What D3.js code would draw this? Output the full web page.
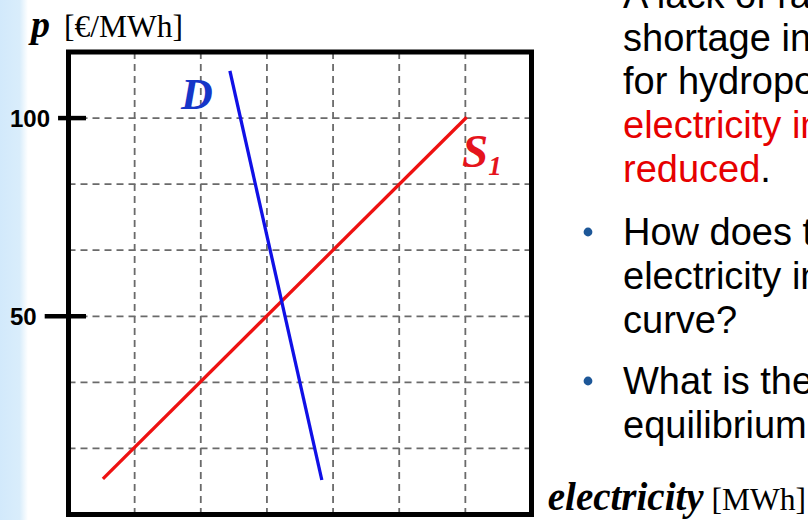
<!DOCTYPE html>
<html>
<head>
<meta charset="utf-8">
<script src="https://cdn.jsdelivr.net/npm/d3@7"></script>
<style>
  html, body { margin: 0; padding: 0; background: #fff; overflow: hidden; }
</style>
</head>
<body>
<script>
const width = 808;
const height = 520;

// valeurs (x en cases de grille, y en €/MWh)
const supplyS1 = [[0.52, 9.0], [6.02, 100.2]];
const demandD = [[2.44, 111.9], [3.83, 8.7]];
const yTicks = [50, 100];
const xGrid = [1, 2, 3, 4, 5, 6];
const yGrid = [16.67, 33.33, 50, 66.67, 83.33, 100];
const bulletLines = [
  {text: "A lack of rai", color: "#000", bullet: true},
  {text: "shortage in", color: "#000"},
  {text: "for hydropow", color: "#000"},
  {text: "electricity in", color: "#e60000"},
  {text: "reduced", color: "#e60000", tail: "."},
  {text: "How does th", color: "#000", bullet: true},
  {text: "electricity in", color: "#000"},
  {text: "curve?", color: "#000"},
  {text: "What is the", color: "#000", bullet: true},
  {text: "equilibrium", color: "#000"}
];
const lineBaselines = [8, 51, 94, 138, 182, 245, 289, 333, 394, 438];

const svg = d3.select("body")
  .append("svg")
  .attr("width", width)
  .attr("height", height);

// bande bleue du modèle de diapo
const defs = svg.append("defs");
const grad = defs.append("linearGradient").attr("id", "strip").attr("x1", 0).attr("x2", 1);
grad.append("stop").attr("offset", "0%").attr("stop-color", "#d2e9fb");
grad.append("stop").attr("offset", "70%").attr("stop-color", "#d9edfb");
grad.append("stop").attr("offset", "100%").attr("stop-color", "#ffffff");
svg.append("rect").attr("x", 0).attr("y", 0).attr("width", 28).attr("height", height).attr("fill", "url(#strip)");

const x = d3.scaleLinear().domain([0, 7]).range([68.5, 531.5]);
const y = d3.scaleLinear().domain([0, 116.67]).range([514.5, 52]);

// grille pointillée
svg.append("g").selectAll("line")
  .data(xGrid)
  .enter().append("line")
  .attr("x1", d => x(d)).attr("x2", d => x(d))
  .attr("y1", y(116.67)).attr("y2", y(0))
  .attr("stroke", "#6a6a6a").attr("stroke-width", 1.8)
  .attr("stroke-dasharray", "7,5");

svg.append("g").selectAll("line")
  .data(yGrid)
  .enter().append("line")
  .attr("x1", x(0)).attr("x2", x(7))
  .attr("y1", d => y(d)).attr("y2", d => y(d))
  .attr("stroke", "#6a6a6a").attr("stroke-width", 1.8)
  .attr("stroke-dasharray", "7,5");

// cadre
svg.append("rect")
  .attr("x", x(0)).attr("y", y(116.67))
  .attr("width", x(7) - x(0)).attr("height", y(0) - y(116.67))
  .attr("fill", "none").attr("stroke", "#000").attr("stroke-width", 5);

// graduations de l'axe des prix
const ticks = svg.append("g").selectAll("g")
  .data(yTicks)
  .enter().append("g")
  .attr("transform", d => `translate(0, ${y(d)})`);

ticks.append("text")
  .attr("x", 10)
  .attr("dy", "0.36em")
  .attr("font-family", "Liberation Sans, Arial, sans-serif")
  .attr("font-weight", "bold")
  .attr("font-size", "24px")
  .text(d => d)
  .each(function (d) {
    d3.select(this.parentNode).append("line")
      .attr("x1", 10 + this.getComputedTextLength() + 8)
      .attr("x2", 86)
      .attr("stroke", "#000").attr("stroke-width", 4.5);
  });

// courbes
const line = d3.line().x(d => x(d[0])).y(d => y(d[1]));
svg.append("path").attr("d", line(supplyS1))
  .attr("stroke", "#ee1111").attr("stroke-width", 3.3).attr("fill", "none");
svg.append("path").attr("d", line(demandD))
  .attr("stroke", "#1010e6").attr("stroke-width", 3.3).attr("fill", "none");

// étiquettes des courbes
svg.append("text")
  .attr("x", 181).attr("y", 109)
  .attr("font-family", "Liberation Serif, Times New Roman, serif")
  .attr("font-weight", "bold").attr("font-style", "italic")
  .attr("font-size", "44px").attr("fill", "#1636c8")
  .text("D");

const sLabel = svg.append("text")
  .attr("x", 462).attr("y", 167)
  .attr("font-family", "Liberation Serif, Times New Roman, serif")
  .attr("font-weight", "bold").attr("font-style", "italic")
  .attr("fill", "#e5141c");
sLabel.append("tspan").attr("font-size", "47px").text("S");
sLabel.append("tspan").attr("font-size", "27px").attr("dy", 8).text("1");

// titres des axes
const pTitle = svg.append("text")
  .attr("x", 31).attr("y", 37)
  .attr("font-family", "Liberation Serif, Times New Roman, serif");
pTitle.append("tspan").attr("font-weight", "bold").attr("font-style", "italic")
  .attr("font-size", "38px").text("p");
pTitle.append("tspan").attr("font-size", "31.5px").attr("dx", 14).text("[€/MWh]");

const qTitle = svg.append("text")
  .attr("x", 806).attr("y", 510)
  .attr("text-anchor", "end")
  .attr("font-family", "Liberation Serif, Times New Roman, serif");
qTitle.append("tspan").attr("font-weight", "bold").attr("font-style", "italic")
  .attr("font-size", "39px").text("electricity");
qTitle.append("tspan").attr("font-size", "31.5px").text(" [MWh]");

// texte de la diapo
const txt = svg.append("g");
bulletLines.forEach((l, i) => {
  const by = lineBaselines[i];
  if (l.bullet) {
    txt.append("circle").attr("cx", 588).attr("cy", by - 13).attr("r", 4.4).attr("fill", "#1d5798");
  }
  const t = txt.append("text")
    .attr("x", 623).attr("y", by)
    .attr("font-family", "Liberation Sans, Arial, sans-serif")
    .attr("font-size", "38px")
    .attr("fill", l.color)
    .text(l.text);
  if (l.tail) t.append("tspan").attr("fill", "#000").text(l.tail);
});
</script>
</body>
</html>
